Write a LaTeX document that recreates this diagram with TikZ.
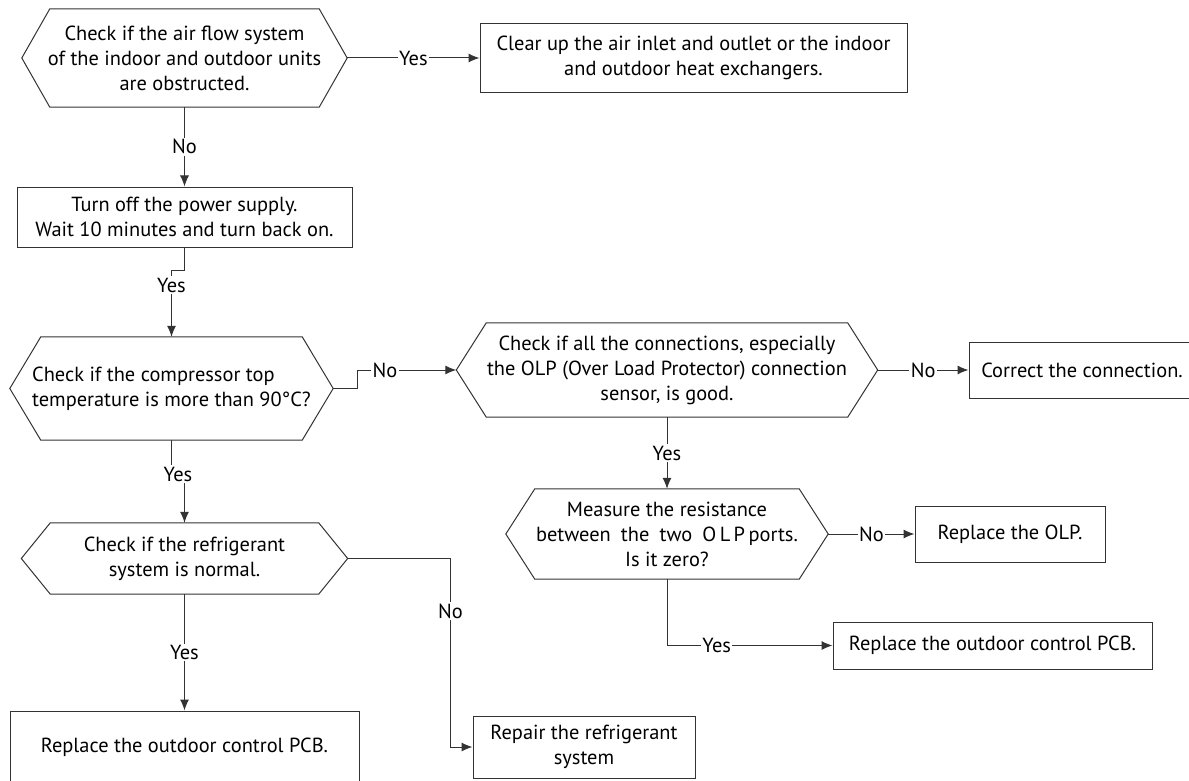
\documentclass[tikz,border=0pt]{standalone}
\usepackage{fontspec}
\setmainfont{PT Sans}
\usepackage{tikz}
\usetikzlibrary{arrows.meta}

\newcommand{\decisionframe}[2]{\draw[flow] ([xshift=#2]#1.north west) -- ([xshift=-#2]#1.north east) -- (#1.east) -- ([xshift=-#2]#1.south east) -- ([xshift=#2]#1.south west) -- (#1.west) -- cycle;}

\begin{document}
\begin{tikzpicture}[x=1pt,y=-1pt,
    flow/.style={line width=1pt,draw=black!80},
    arr/.style={flow,-{Latex[length=11pt,width=9pt]}},
    decision/.style={inner sep=0pt,align=center,font=\fontsize{20.4}{25}\selectfont},
    action/.style={draw=black!80,line width=1pt,inner sep=0pt,align=center,font=\fontsize{20.4}{25}\selectfont},
    lbl/.style={fill=white,inner sep=1.5pt,font=\fontsize{20.4}{22}\selectfont}]
    \useasboundingbox (0,0) rectangle (1189,781);
    \node[decision,minimum width=325pt,minimum height=98pt] (airflow) at (184.5,58) {Check if the air flow system\\of the indoor and outdoor units\\are obstructed.};
    \node[action,minimum width=427pt,minimum height=69pt] (clearup) at (693.5,58) {Clear up the air inlet and outlet or the indoor\\and outdoor heat exchangers.};
    \node[action,minimum width=335pt,minimum height=60pt] (poweroff) at (184.5,217) {Turn off the power supply.\\Wait 10 minutes and turn back on.};
    \node[decision,align=left,minimum width=323pt,minimum height=103pt] (comptemp) at (171.5,388.5) {Check if the compressor top\\temperature is more than 90°C?};
    \node[decision,minimum width=421pt,minimum height=94pt] (olpconn) at (667,370) {Check if all the connections, especially\\the OLP (Over Load Protector) connection\\sensor, is good.};
    \node[action,minimum width=226pt,minimum height=56pt] (fixconn) at (1082,370) {Correct the connection.};
    \node[decision,minimum width=322pt,minimum height=90pt] (olpres) at (667,534) {Measure the resistance\\between\enspace the\enspace two\enspace O\,L\,P\,ports.\\Is it zero?};
    \node[action,minimum width=190pt,minimum height=56pt] (newolp) at (1010,534) {Replace the OLP.};
    \node[action,minimum width=319pt,minimum height=47pt] (pcbright) at (992.5,645.5) {Replace the outdoor control PCB.};
    \node[decision,minimum width=326pt,minimum height=71pt] (refrig) at (184.5,558.5) {Check if the refrigerant\\system is normal.};
    \node[action,minimum width=349pt,minimum height=72pt] (pcbleft) at (184.5,747) {Replace the outdoor control PCB.};
    \node[action,minimum width=222pt,minimum height=62pt] (fixref) at (584,747) {Repair the refrigerant\\system};
    \decisionframe{airflow}{28pt}
    \decisionframe{comptemp}{31pt}
    \decisionframe{olpconn}{30pt}
    \decisionframe{olpres}{29pt}
    \decisionframe{refrig}{29pt}
    \draw[arr] (airflow.east) -- node[lbl]{Yes} (clearup.west);
    \draw[arr] (airflow.south) -- node[lbl]{No} (poweroff.north);
    \draw[arr] (poweroff.south) -- ++(0,23) -| node[lbl,pos=0.61]{Yes} (comptemp.north);
    \draw[arr] (comptemp.east) -- ++(24,0) |- node[lbl,pos=0.64]{No} (olpconn.west);
    \draw[arr] (olpconn.east) -- node[lbl]{No} (fixconn.west);
    \draw[arr] (olpconn.south) -- node[lbl]{Yes} (olpres.north);
    \draw[arr] (olpres.east) -- node[lbl]{No} (newolp.west);
    \draw[arr] (olpres.south) |- node[lbl,pos=0.65]{Yes} (pcbright.west);
    \draw[arr] (comptemp.south) -- ++(0,34) -| node[lbl,pos=0.25]{Yes} (refrig.north);
    \draw[arr] (refrig.east) -| node[lbl,pos=0.64]{No} ([xshift=-22pt]fixref.west) -- (fixref.west);
    \draw[arr] (refrig.south) -- node[lbl]{Yes} (pcbleft.north);
    \end{tikzpicture}
\end{document}
